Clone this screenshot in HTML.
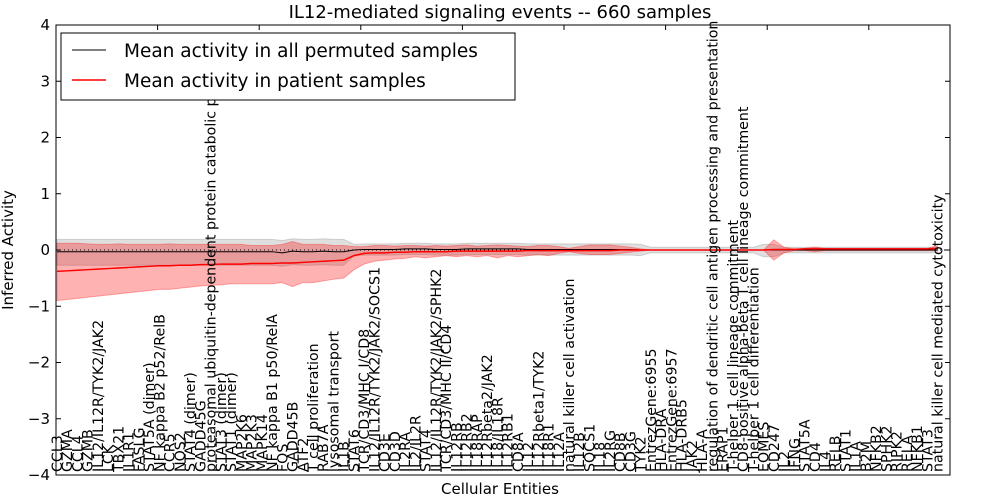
<!DOCTYPE html>
<html><head><meta charset="utf-8"><style>body{margin:0;background:#fff}svg{display:block;font-family:"DejaVu Sans","Liberation Sans",sans-serif}</style></head>
<body>
<svg id="chart" width="1000" height="500"></svg>
<script>
const categories=["CCL3","GZMA","CCL4","GZMB","IL12/IL12R/TYK2/JAK2","LCK","TBX21","IL1R1","FASLG","STAT5A (dimer)","NF kappa B2 p52/RelB","CCR5","NOS2","STAT4 (dimer)","GADD45G","proteasomal ubiquitin-dependent protein catabolic process","STAT3 (dimer)","STAT1 (dimer)","MAP2K6","MAP2K3","MAPK14","NF kappa B1 p50/RelA","FOS","GADD45B","ATF2","T cell proliferation","RAB7A","lysosomal transport","IL1B","STAT6","TCR/CD3/MHC I/CD8","IL12/IL12R/TYK2/JAK2/SOCS1","CD3E","CD3D","IL2RA","IL2/IL2R","STAT4","IL12/IL12R/TYK2/JAK2/SPHK2","TCR/CD3/MHC II/CD4","IL12RB","IL12RB2","IL18RAP","IL12Rbeta2/JAK2","IL18/IL18R","IL12RB1","CD8A","IL12","IL12Rbeta1/TYK2","IL18R1","IL12A","natural killer cell activation","IL12B","SOCS1","IL18","IL2RG","CD8B","CD3G","TYK2","EntrezGene:6955","HLA-DRA","EntrezGene:6957","HLA-DRB5","JAK2","HLA-A","regulation of dendritic cell antigen processing and presentation","ERAP1","T-helper 1 cell lineage commitment","CD8-positive alpha-beta T cell lineage commitment","T-helper 1 cell differentiation","EOMES","CD247","IL2","IFNG","STAT5A","CD4","IL4","RELB","STAT1","IL1A","B2M","NFKB2","SPHK2","RIPK2","RELA","NFKB1","STAT3","natural killer cell mediated cytotoxicity"];
const redMean=[-0.38,-0.37,-0.36,-0.35,-0.34,-0.33,-0.32,-0.31,-0.30,-0.29,-0.28,-0.28,-0.27,-0.27,-0.26,-0.26,-0.25,-0.25,-0.25,-0.24,-0.24,-0.24,-0.23,-0.23,-0.22,-0.21,-0.20,-0.19,-0.18,-0.10,-0.06,-0.05,-0.05,-0.04,-0.04,-0.03,-0.03,-0.03,-0.03,-0.02,-0.02,-0.02,-0.02,-0.02,-0.02,-0.02,-0.01,-0.01,-0.01,-0.01,-0.01,-0.01,-0.01,-0.01,-0.01,0,0,0,0,0,0,0,0,0,0,0,0,0,0,0,0.01,0.01,0.01,0.02,0.02,0.02,0.02,0.02,0.02,0.02,0.02,0.02,0.02,0.02,0.02,0.02,0.03];
const redLo=[-0.9,-0.88,-0.86,-0.84,-0.82,-0.8,-0.78,-0.76,-0.74,-0.72,-0.7,-0.7,-0.68,-0.66,-0.64,-0.63,-0.62,-0.6,-0.6,-0.6,-0.6,-0.6,-0.58,-0.65,-0.58,-0.58,-0.55,-0.52,-0.5,-0.35,-0.25,-0.2,-0.18,-0.16,-0.15,-0.12,-0.14,-0.12,-0.1,-0.12,-0.1,-0.12,-0.1,-0.14,-0.1,-0.12,-0.1,-0.08,-0.1,-0.06,-0.03,-0.06,-0.08,-0.08,-0.08,-0.06,-0.04,-0.02,0,0,0,0,0,0,0,0,0,0,0,0,-0.18,-0.05,-0.01,-0.01,-0.03,-0.01,-0.01,-0.01,-0.01,-0.01,-0.01,-0.01,-0.01,-0.01,-0.01,-0.01,-0.01];
const redHi=[0.12,0.12,0.12,0.11,0.1,0.1,0.11,0.1,0.1,0.1,0.1,0.11,0.1,0.1,0.1,0.1,0.1,0.1,0.1,0.08,0.08,0.08,0.1,0.15,0.1,0.1,0.1,0.08,0.08,0.06,0.06,0.08,0.08,0.07,0.08,0.08,0.07,0.08,0.07,0.08,0.09,0.07,0.08,0.09,0.08,0.07,0.06,0.08,0.08,0.06,0.03,0.06,0.09,0.09,0.09,0.07,0.05,0.02,0,0,0,0,0,0,0,0,0,0,0,0,0.18,0.05,0.02,0.03,0.05,0.03,0.03,0.03,0.03,0.03,0.03,0.03,0.03,0.03,0.03,0.03,0.08];
const blackMean=[-0.03,-0.03,-0.03,-0.03,-0.03,-0.03,-0.03,-0.03,-0.03,-0.03,-0.03,-0.03,-0.03,-0.03,-0.03,-0.03,-0.03,-0.03,-0.03,-0.03,-0.03,-0.03,-0.05,-0.02,-0.03,-0.03,-0.02,-0.03,-0.03,0.0,0.01,0.01,0.01,0.01,0.02,0.02,0.02,0.01,0.01,0.01,0.02,0.02,0.02,0.02,0.02,0.02,0.01,0.01,0.01,0.01,0.01,0.01,0.01,0.01,0.01,0.01,0.01,0,0,0,0,0,0,0,0,0,0,0,0,0,0,0,0,0,0,0,0,0,0,0,0,0,0,0,0,0,0];
const greyLo=blackMean.map((v,i)=>v-(i<29?0.24:i<58?0.1:(i===69||i===70)?0.12:0.05));
const greyHi=blackMean.map((v,i)=>v+(i<29?0.22:i<58?0.1:(i===69||i===70)?0.1:0.05));
const yTicks=[-4,-3,-2,-1,0,1,2,3,4];

const NS="http://www.w3.org/2000/svg";
const svg=document.getElementById('chart');
const L=56,R=950,T=25,B=475;
const xs=i=>L+1+i*10.24;
const ys=v=>T+(4-v)*(B-T)/8;
function el(tag,attrs,parent){const e=document.createElementNS(NS,tag);for(const k in attrs)e.setAttribute(k,attrs[k]);(parent||svg).appendChild(e);return e;}
function band(lo,hi){let d='';hi.forEach((v,i)=>{d+=(i?'L':'M')+xs(i)+','+ys(v)});for(let i=lo.length-1;i>=0;i--)d+='L'+xs(i)+','+ys(lo[i]);return d+'Z';}
function line(a){return a.map((v,i)=>(i?'L':'M')+xs(i)+','+ys(v)).join('');}

const g1=el('path',{d:band(greyLo,greyHi),fill:'rgba(128,128,128,0.25)',stroke:'rgba(128,128,128,0.3)'});


const r1=el('path',{d:band(redLo,redHi),fill:'rgba(255,0,0,0.3)',stroke:'rgba(255,0,0,0.3)'});


const z=el('line',{x1:L,x2:R,y1:ys(0),y2:ys(0),stroke:'#000','stroke-dasharray':'1,3'});


const bl=el('path',{d:line(blackMean),fill:'none',stroke:'#000','stroke-width':1});


const rl=el('path',{d:line(redMean),fill:'none',stroke:'#f00','stroke-width':1.5});



yTicks.forEach(v=>{
  const y=ys(v);
  el('line',{x1:L,x2:L+5,y1:y,y2:y,stroke:'#000'});
  el('line',{x1:R-5,x2:R,y1:y,y2:y,stroke:'#000'});
  const t=el('text',{x:L-6,y:y+5,'text-anchor':'end','font-size':15});
  t.textContent=v===0?'0':(v<0?'\u2212'+(-v):v);
  
  
});
for(let k=10;k<88;k+=10){el('line',{x1:L+k*10.16,x2:L+k*10.16,y1:T,y2:T+5,stroke:'#000'});}
categories.forEach((c,i)=>{
  const x=xs(i)+5;
  const t=el('text',{x:x,y:472,transform:'rotate(-90 '+x+' 472)','font-size':14.2});
  t.textContent=c;
  
  
});
const fr=el('rect',{x:L,y:T,width:R-L,height:B-T,fill:'none',stroke:'#000'});


const title=el('text',{x:500,y:18,'text-anchor':'middle','font-size':18});
title.textContent='IL12-mediated signaling events -- 660 samples';


const xl=el('text',{x:500,y:494,'text-anchor':'middle','font-size':15});
xl.textContent='Cellular Entities';


const yl=el('text',{x:13,y:250,'text-anchor':'middle','font-size':15,transform:'rotate(-90 13 250)'});
yl.textContent='Inferred Activity';



const lg=el('g',{});


el('rect',{x:61,y:33,width:454,height:67,fill:'#fff',stroke:'#000'},lg);
el('line',{x1:72,x2:106,y1:50,y2:50,stroke:'#000'},lg);
el('line',{x1:72,x2:106,y1:80,y2:80,stroke:'#f00','stroke-width':1.5},lg);
const l1=el('text',{x:124,y:57,'font-size':18.5},lg);
l1.textContent='Mean activity in all permuted samples';


const l2=el('text',{x:124,y:87,'font-size':18.5},lg);
l2.textContent='Mean activity in patient samples';


</script>
</body></html>
